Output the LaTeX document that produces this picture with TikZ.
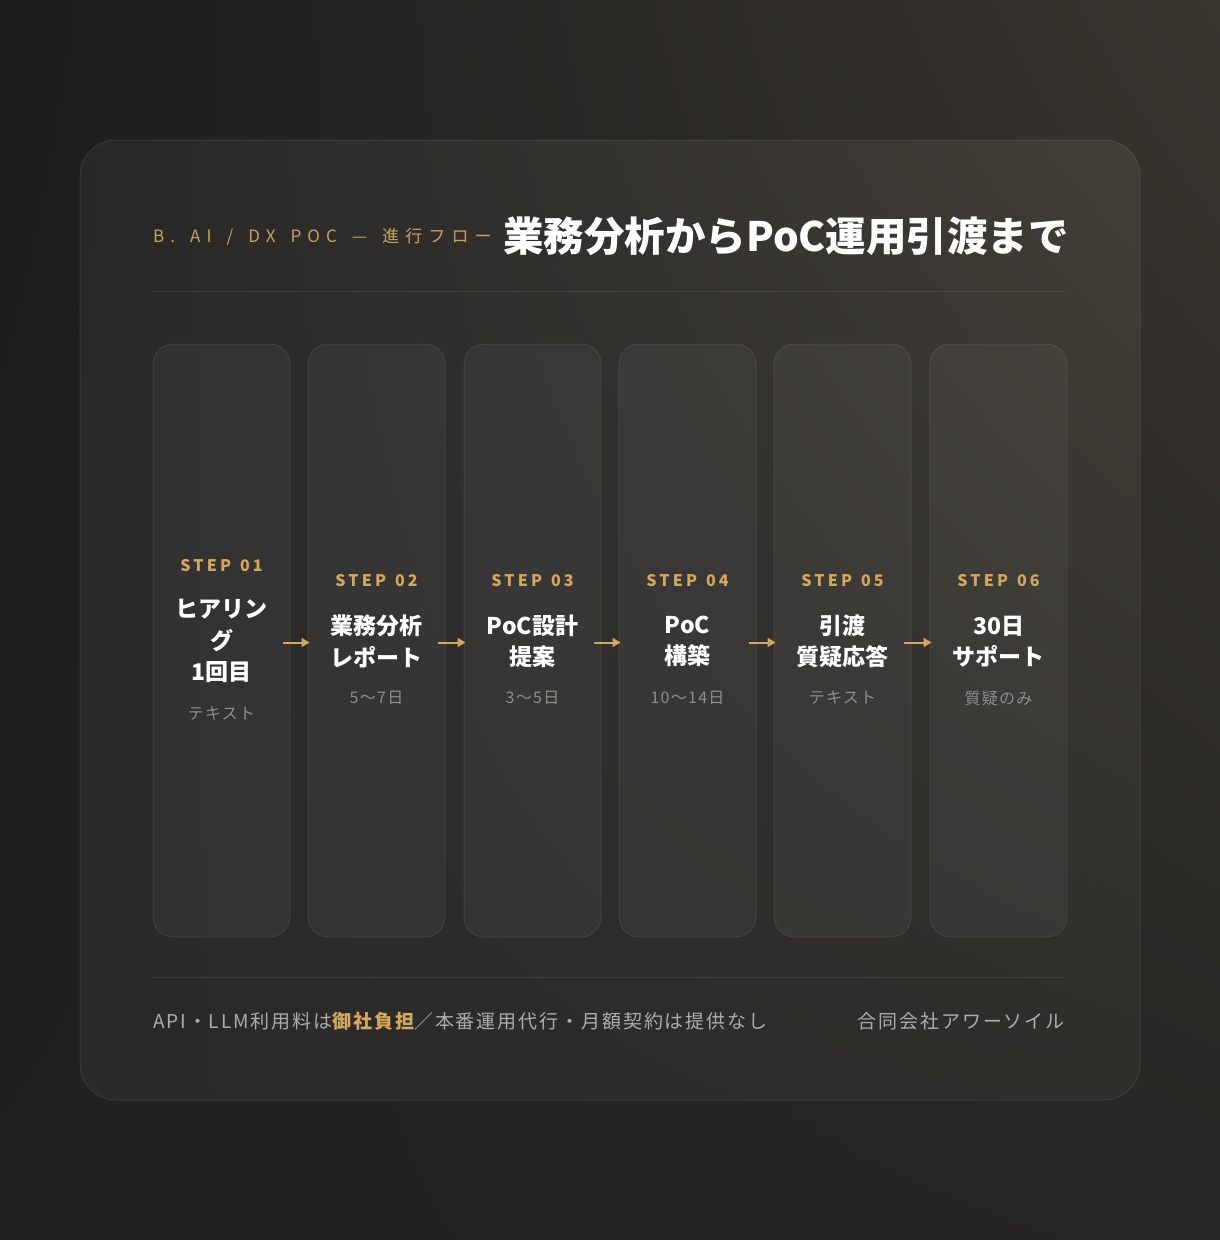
\documentclass[tikz,border=0pt]{standalone}
\usepackage{fontspec}
\setmainfont{Noto Sans CJK JP}
\newfontfamily\lblfont{Noto Sans CJK JP}[LetterSpace=36]
\newfontfamily\stepfont{Noto Sans CJK JP}[LetterSpace=20]
\newfontfamily\subfont{Noto Sans CJK JP}[LetterSpace=8]
\newfontfamily\footfont{Noto Sans CJK JP}[LetterSpace=10]
\usetikzlibrary{arrows.meta,shadings}
\definecolor{gold}{HTML}{D4A75E}
\definecolor{lblgold}{HTML}{C9A063}
\definecolor{subgray}{HTML}{8E8E8E}
\definecolor{footgray}{HTML}{ADADAD}
\definecolor{bgUL}{HTML}{1C1C1C}
\definecolor{bgUR}{HTML}{39352F}
\definecolor{bgLL}{HTML}{212121}
\definecolor{bgLR}{HTML}{262523}
\definecolor{pnUL}{HTML}{272727}
\definecolor{pnUR}{HTML}{423E37}
\definecolor{pnLL}{HTML}{292929}
\definecolor{pnLR}{HTML}{2E2D2A}
\tikzset{
  card/.style={draw=white, draw opacity=0.08, fill=white, fill opacity=0.045,
    rounded corners=20pt, minimum width=137pt, minimum height=593pt, inner sep=0pt, line width=1pt},
  steplbl/.style={text=gold, font=\stepfont\bfseries\fontsize{16}{16}\selectfont, inner sep=0pt},
  ttl/.style={text=white, font=\bfseries\fontsize{23}{31.5}\selectfont, align=center, inner sep=0pt},
  subtx/.style={text=subgray, font=\subfont\fontsize{16}{16}\selectfont, inner sep=0pt},
  foot/.style={text=footgray, font=\footfont\fontsize{19}{19}\selectfont, inner sep=0pt},
  arr/.style={draw=gold, line width=2pt, -{Triangle[length=8pt,width=9pt]}, shorten <=-8pt, shorten >=-2pt},
  divider/.style={draw=white, draw opacity=0.09, line width=1pt}
}
\newcommand\wsp{\hspace*{15pt}}
\newcommand\ssp{\hspace*{9pt}}
\begin{document}
\begin{tikzpicture}[x=1pt,y=-1pt]
\useasboundingbox (0,0) rectangle (1220,1240);
\shade[upper left=bgUL, upper right=bgUR, lower left=bgLL, lower right=bgLR] (0,0) rectangle (1220,1240);
\shade[rounded corners=36pt, upper left=pnUL, upper right=pnUR, lower left=pnLL, lower right=pnLR] (80,140) rectangle (1140,1100);
\draw[rounded corners=36pt, draw=white, draw opacity=0.09, line width=1pt] (80,140) rectangle (1140,1100);

\node[anchor=base west, inner sep=0pt, text=lblgold, font=\lblfont\fontsize{17}{17}\selectfont] (lbl) at (153,242) {B.\wsp AI\wsp /\wsp DX\wsp POC\wsp —\wsp 進行フロー};
\node[anchor=base west, inner sep=0pt, text=white, font=\bfseries\fontsize{40.5}{40.5}\selectfont] (title) at (503,251) {業務分析からPoC運用引渡まで};
\draw[divider] (153,291) -- (1065,291);

\node[card] (c1) at (221.5,640.5) {};
\node[card] (c2) at (376.5,640.5) {};
\node[card] (c3) at (532.5,640.5) {};
\node[card] (c4) at (687.5,640.5) {};
\node[card] (c5) at (842.5,640.5) {};
\node[card] (c6) at (998.5,640.5) {};

\node[steplbl] (s1) at (221.5,566) {STEP\ssp 01};
\node[ttl] (t1) at (221.5,641) {ヒアリン\\グ\\1回目};
\node[subtx] (u1) at (221.5,714) {テキスト};

\node[steplbl] (s2) at (376.5,581) {STEP\ssp 02};
\node[ttl] (t2) at (376.5,641.5) {業務分析\\レポート};
\node[subtx] (u2) at (376.5,698) {5〜7日};

\node[steplbl] (s3) at (532.5,581) {STEP\ssp 03};
\node[ttl] (t3) at (532.5,641.5) {PoC設計\\提案};
\node[subtx] (u3) at (532.5,698) {3〜5日};

\node[steplbl] (s4) at (687.5,581) {STEP\ssp 04};
\node[ttl] (t4) at (687.5,641.5) {PoC\\構築};
\node[subtx] (u4) at (687.5,698) {10〜14日};

\node[steplbl] (s5) at (842.5,581) {STEP\ssp 05};
\node[ttl] (t5) at (842.5,641.5) {引渡\\質疑応答};
\node[subtx] (u5) at (842.5,698) {テキスト};

\node[steplbl] (s6) at (998.5,581) {STEP\ssp 06};
\node[ttl] (t6) at (998.5,641.5) {30日\\サポート};
\node[subtx] (u6) at (998.5,698) {質疑のみ};

\draw[arr] ([yshift=-2pt]c1.east) -- ([yshift=-2pt]c2.west);
\draw[arr] ([yshift=-2pt]c2.east) -- ([yshift=-2pt]c3.west);
\draw[arr] ([yshift=-2pt]c3.east) -- ([yshift=-2pt]c4.west);
\draw[arr] ([yshift=-2pt]c4.east) -- ([yshift=-2pt]c5.west);
\draw[arr] ([yshift=-2pt]c5.east) -- ([yshift=-2pt]c6.west);

\draw[divider] (153,977) -- (1065,977);
\node[foot, anchor=base west] (fl) at (153,1028) {API・LLM利用料は{\color{gold}\bfseries 御社負担}／本番運用代行・月額契約は提供なし};
\node[foot, anchor=base east] (fr) at (1065,1028) {合同会社アワーソイル};
\end{tikzpicture}
\end{document}
